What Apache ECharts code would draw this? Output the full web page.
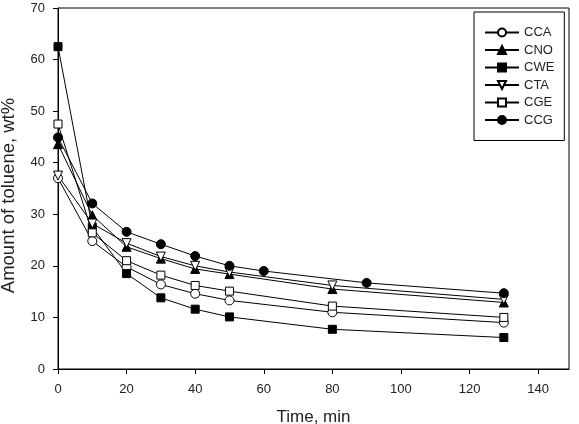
<!DOCTYPE html>
<html>
<head>
<meta charset="utf-8">
<script src="https://cdn.jsdelivr.net/npm/echarts@6/dist/echarts.min.js"></script>
<style>
html,body{margin:0;padding:0;background:#fff;}
#chart{width:579px;height:424px;}
</style>
</head>
<body>
<div id="chart"></div>
<script>
// Data
const time = [0, 10, 20, 30, 40, 50, 80, 130];
const timeCCG = [0, 10, 20, 30, 40, 50, 60, 90, 130];
const CCA = [37.0, 24.8, 19.8, 16.4, 14.6, 13.3, 11.0, 9.0];
const CNO = [43.6, 29.8, 23.7, 21.4, 19.4, 18.4, 15.5, 12.9];
const CWE = [62.5, 27.5, 18.5, 13.8, 11.6, 10.1, 7.7, 6.1];
const CTA = [37.5, 28.2, 24.4, 21.8, 20.0, 18.8, 16.2, 13.5];
const CGE = [47.5, 26.4, 21.0, 18.2, 16.2, 15.1, 12.2, 10.0];
const CCG = [44.9, 32.1, 26.6, 24.2, 21.9, 20.0, 19.0, 16.7, 14.7];
const xTicks = [0, 20, 40, 60, 80, 100, 120, 140];
const yTicks = [0, 10, 20, 30, 40, 50, 60, 70];

const pair = (xs, ys) => xs.map((x, i) => [x, ys[i]]);

function mk(name, xs, ys, symbol, filled, rotate) {
  return {
    name: name,
    type: 'line',
    data: pair(xs, ys),
    symbol: symbol,
    symbolSize: symbol === 'rect' ? 8 : 9,
    symbolRotate: rotate || 0,
    showAllSymbol: true,
    lineStyle: { color: '#000', width: 1 },
    itemStyle: { color: filled ? '#000' : '#fff', borderColor: '#000', borderWidth: 1 },
    emphasis: { disabled: true },
    animation: false
  };
}

const chart = echarts.init(document.getElementById('chart'), null, { renderer: 'canvas' });
const font = 'Liberation Sans, Arial, sans-serif';
chart.setOption({
  backgroundColor: '#fff',
  animation: false,
  grid: { left: 58, right: 10, top: 8, bottom: 55, outerBoundsMode: 'none', containLabel: false, show: true, borderColor: '#000', borderWidth: 1, backgroundColor: 'transparent' },
  legend: {
    orient: 'vertical',
    left: 474,
    top: 12,
    itemWidth: 34,
    itemHeight: 10,
    itemGap: 4.5,
    padding: [14, 10, 14, 10],
    borderColor: '#000',
    borderWidth: 1,
    textStyle: { fontFamily: font, fontSize: 13, lineHeight: 13, color: '#222' },
    data: ['CCA', 'CNO', 'CWE', 'CTA', 'CGE', 'CCG']
  },
  xAxis: {
    type: 'value',
    min: 0,
    max: 149,
    interval: 20,
    name: 'Time, min',
    nameLocation: 'middle',
    nameGap: 40,
    nameTextStyle: { fontFamily: font, fontSize: 17, color: '#222' },
    axisLine: { lineStyle: { color: '#000', width: 1 } },
    axisTick: { show: true, length: 5, lineStyle: { color: '#000' }, customValues: xTicks },
    axisLabel: { fontFamily: font, fontSize: 13, color: '#222', margin: 14, customValues: xTicks },
    splitLine: { show: false }
  },
  yAxis: {
    type: 'value',
    min: 0,
    max: 70,
    interval: 10,
    name: 'Amount of toluene, wt%',
    nameLocation: 'middle',
    nameGap: 40,
    nameTextStyle: { fontFamily: font, fontSize: 18.5, color: '#222', padding: [0, 14, 0, 0] },
    axisLine: { show: true, lineStyle: { color: '#000', width: 1 } },
    axisTick: { show: true, length: 5, lineStyle: { color: '#000' }, customValues: yTicks },
    axisLabel: { fontFamily: font, fontSize: 13, color: '#222', margin: 13, customValues: yTicks },
    splitLine: { show: false }
  },
  series: [
    mk('CCA', time, CCA, 'circle', false),
    mk('CNO', time, CNO, 'triangle', true),
    mk('CWE', time, CWE, 'rect', true),
    mk('CTA', time, CTA, 'triangle', false, 180),
    mk('CGE', time, CGE, 'rect', false),
    mk('CCG', timeCCG, CCG, 'circle', true)
  ]
});
</script>
</body>
</html>
